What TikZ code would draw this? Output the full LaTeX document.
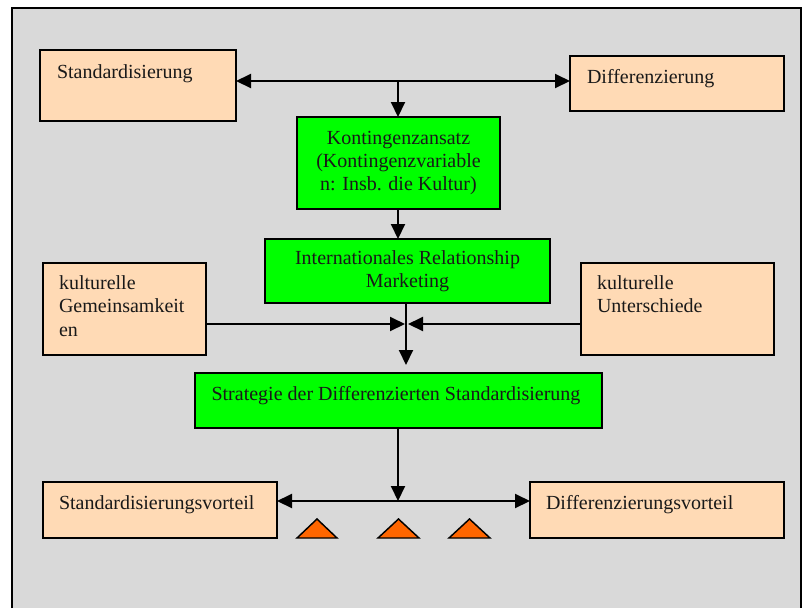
\documentclass[tikz,border=0pt]{standalone}
\usepackage{fontspec}
\setmainfont{Liberation Serif}
\usetikzlibrary{arrows.meta,calc}
\newlength\upx
\setlength\upx{0.75pt}
\definecolor{panelgray}{RGB}{217,217,217}
\definecolor{peach}{RGB}{255,218,181}
\definecolor{brightgreen}{RGB}{0,255,0}
\definecolor{marker}{RGB}{255,102,0}
\tikzset{
  boxbase/.style={draw=black, line width=1.5pt, inner sep=0pt, outer sep=0pt},
  peachbox/.style={boxbase, fill=peach},
  greenbox/.style={boxbase, fill=brightgreen},
  lbl/.style={inner sep=0pt, outer sep=0pt, font=\fontsize{15}{17.5}\selectfont, text=black!90},
  conn/.style={line width=1.5pt, draw=black},
  tip/.style={-{Triangle[length=11.25pt, width=10.5pt]}},
  tips/.style={{Triangle[length=11.25pt, width=10.5pt]}-{Triangle[length=11.25pt, width=10.5pt]}},
  tri/.style={draw=black, line width=1.1pt, fill=marker, line join=miter},
}
% a box given by its corners (x1,y1) (x2,y2), y measured downwards
\newcommand\mkbox[6]{%
  \node[#1, anchor=north west, minimum width={(#5-#3)*0.75pt}, minimum height={(#6-#4)*0.75pt}]
    (#2) at (#3,#4) {};}
\begin{document}
\begin{tikzpicture}[x=0.75pt, y=-0.75pt]
\useasboundingbox (0,0) rectangle (804,608);
% panel
\fill[panelgray] (12,8) rectangle (801,608);
\draw[line width=1.5pt] (12,608) -- (12,8) -- (801,8) -- (801,608);

% boxes
\mkbox{peachbox}{std}{40}{50}{236}{121}
\mkbox{peachbox}{dif}{570}{56}{784}{111}
\mkbox{greenbox}{kon}{297}{117}{500}{209}
\mkbox{greenbox}{irm}{265}{239}{550}{303}
\mkbox{peachbox}{kg}{43}{263}{206}{355}
\mkbox{peachbox}{ku}{581}{263}{774}{355}
\mkbox{greenbox}{strat}{195}{373}{602}{428}
\mkbox{peachbox}{sv}{43}{482}{277}{538}
\mkbox{peachbox}{dv}{530}{482}{784}{538}

% texts
\node[lbl, anchor=base west] (stdT) at (57,78) {Standardisierung};
\node[lbl, anchor=base west] (difT) at (587,83) {Differenzierung};
\node[lbl, align=center] (konT) at (kon.center) {Kontingenzansatz\\(Kontingenzvariable\\n: Insb. die Kultur)};
\node[lbl, align=center] (irmT) at (irm.center) {Internationales Relationship\\Marketing};
\node[lbl, align=left, anchor=north west] (kgT) at (59,275.5) {kulturelle\\Gemeinsamkeit\\en};
\node[lbl, align=left, anchor=north west] (kuT) at (597,275.5) {kulturelle\\Unterschiede};
\node[lbl, anchor=base] (stratT) at (396,400) {Strategie der Differenzierten Standardisierung};
\node[lbl, anchor=base west] (svT) at (59,509) {Standardisierungsvorteil};
\node[lbl, anchor=base west] (dvT) at (546,509) {Differenzierungsvorteil};

% junctions
\coordinate (j1) at (398,81);
\coordinate (j2) at (406,324);
\coordinate (j3) at (398,501);

% connectors
\draw[conn, tips] (std.east |- j1) -- (dif.west |- j1);
\draw[conn, tip] (j1) -- (j1 |- kon.north);
\draw[conn, tip] (j1 |- kon.south) -- (j1 |- irm.north);
\draw[conn] (j2 |- irm.south) -- (j2);
\draw[conn, tip, shorten >=6pt] (j2) -- (j2 |- strat.north);
\draw[conn, tip] (kg.east |- j2) -- ([xshift=-0.75pt]j2);
\draw[conn, tip] (ku.west |- j2) -- ([xshift=1.5pt]j2);
\draw[conn, tip] (j3 |- strat.south) -- (j3);
\draw[conn, tips] (sv.east |- j3) -- (dv.west |- j3);

% markers
\draw[tri] (297,538) -- (337,538) -- (317,519) -- cycle;
\draw[tri] (378,538) -- (419,538) -- (398.5,519) -- cycle;
\draw[tri] (449,538) -- (490,538) -- (469.5,519) -- cycle;
\end{tikzpicture}
\end{document}
